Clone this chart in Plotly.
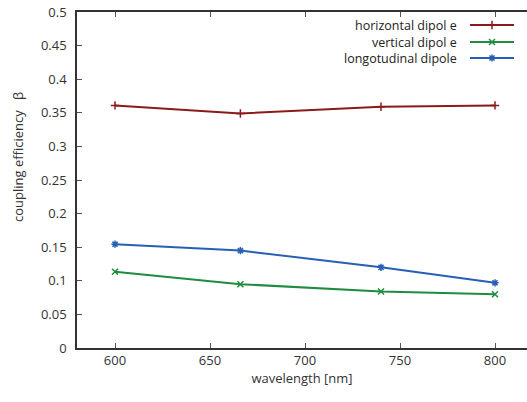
import plotly.graph_objects as go

wavelength = [600, 666, 740, 800]
horizontal = [0.361, 0.349, 0.359, 0.361]
vertical = [0.1135, 0.095, 0.084, 0.080]
longitudinal = [0.1545, 0.145, 0.120, 0.097]
names = ["horizontal dipol e", "vertical dipol e", "longotudinal dipole"]
colors = ["#8c1a1a", "#1f8c3f", "#2660b4"]
symbols = ["cross-thin-open", "x-thin-open", "asterisk-open"]
x_ticks = [600, 650, 700, 750, 800]
y_ticks = [0, 0.05, 0.1, 0.15, 0.2, 0.25, 0.3, 0.35, 0.4, 0.45, 0.5]

W, H = 527, 402
L, T, B = 77, 12, 54
PL, PT, PB, PR = L, T, H - B, W  # plot area in page pixels

fig = go.Figure()
for ys, n, c, s in zip([horizontal, vertical, longitudinal], names, colors, symbols):
    fig.add_trace(go.Scatter(x=wavelength, y=ys, mode="lines+markers", name=n,
                             line=dict(color=c, width=2),
                             marker=dict(symbol=s, size=6, color=c, line=dict(color=c, width=1.5)),
                             showlegend=False))

# manual legend (text left, sample right) in page-pixel overlay axes
leg_y = [25, 42, 58]
for n, c, s, yy in zip(names, colors, symbols, leg_y):
    fig.add_trace(go.Scatter(x=[470, 492, 514], y=[yy, yy, yy], xaxis="x2", yaxis="y2",
                             mode="lines", line=dict(color=c, width=2), showlegend=False,
                             hoverinfo="skip"))
    fig.add_trace(go.Scatter(x=[492], y=[yy], xaxis="x2", yaxis="y2", mode="markers",
                             marker=dict(symbol=s, size=6, color=c, line=dict(color=c, width=1.5)),
                             showlegend=False, hoverinfo="skip"))
    fig.add_annotation(x=459, y=yy, xref="x2", yref="y2", text=n, showarrow=False,
                       xanchor="right", yanchor="middle",
                       font=dict(family="Open Sans", size=12.5, color="#222"))

axis_common = dict(showgrid=False, zeroline=False, showline=True, linecolor="#333",
                   linewidth=1.5, ticks="inside", ticklen=5, tickcolor="#555", tickwidth=1.2,
                   ticklabeloverflow="allow",
                   tickfont=dict(family="Open Sans", size=13, color="#333"))
fig.update_layout(
    width=W, height=H, margin=dict(l=L, r=0, t=T, b=B, autoexpand=False),
    paper_bgcolor="white", plot_bgcolor="white",
    xaxis=dict(range=[580, 580 + (PR - PL) / 1.9], tickvals=x_ticks, mirror="ticks",
               title=dict(text="wavelength [nm]", font=dict(family="Open Sans", size=13, color="#333"),
                          standoff=6), automargin=False, **axis_common),
    yaxis=dict(range=[0, 0.5], tickvals=y_ticks, ticktext=[f"{v:g}" for v in y_ticks],
               ticklabelstandoff=6, automargin=False, mirror=False, **axis_common),
    xaxis2=dict(overlaying="x", range=[PL, PR], visible=False, showline=False),
    yaxis2=dict(overlaying="y", range=[PB, PT], visible=False, showline=False),
)
fig.add_annotation(x=(18 - PL) / (PR - PL), y=(PB - 157) / (PB - PT), xref="paper", yref="paper",
                   text="coupling efficiency   β", showarrow=False, textangle=-90,
                   xanchor="center", yanchor="middle",
                   font=dict(family="Open Sans", size=13, color="#333"))
fig.write_html("out.html", config={"displayModeBar": False},
               post_script="document.body.style.margin='0';document.body.style.overflow='hidden';")
